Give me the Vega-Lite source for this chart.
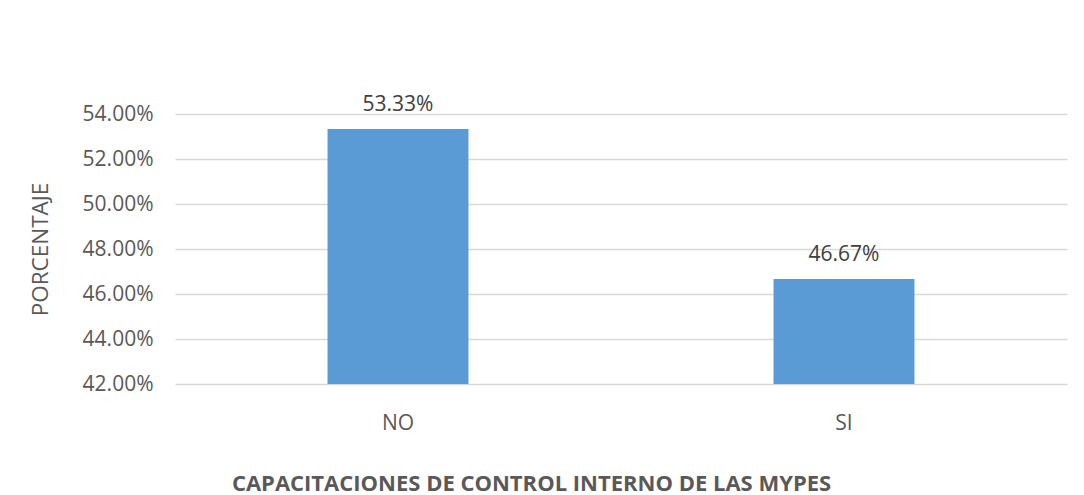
{
  "$schema": "https://vega.github.io/schema/vega-lite/v6.json",
  "width": 892,
  "height": 270,
  "autosize": {"type": "none"},
  "padding": {"left": 175, "top": 114, "right": 17, "bottom": 111},
  "background": "white",
  "data": {"values": [
    {"respuesta": "NO", "porcentaje": 0.5333},
    {"respuesta": "SI", "porcentaje": 0.4667}
  ]},
  "encoding": {
    "x": {
      "field": "respuesta", "type": "nominal", "sort": null,
      "scale": {"paddingInner": 0, "paddingOuter": 0},
      "axis": {
        "title": "CAPACITACIONES DE CONTROL INTERNO DE LAS MYPES",
        "titleFont": "Open Sans", "titleFontSize": 22, "titleFontWeight": "bold", "titleColor": "#595959",
        "titleX": 356, "titleAlign": "center", "titleAnchor": "start",
        "titlePadding": 40,
        "labelFont": "Open Sans", "labelFontSize": 21, "labelColor": "#595959", "labelAngle": 0,
        "labelPadding": 28, "ticks": false, "domain": false, "grid": false
      }
    },
    "y": {
      "field": "porcentaje", "type": "quantitative",
      "scale": {"domain": [0.42, 0.54], "zero": false, "nice": false},
      "axis": {
        "title": "PORCENTAJE",
        "titleFont": "Open Sans", "titleFontSize": 22.5, "titleFontWeight": "normal", "titleColor": "#595959",
        "titlePadding": 30,
        "values": [0.42, 0.44, 0.46, 0.48, 0.50, 0.52, 0.54],
        "format": ".2%",
        "labelFont": "Open Sans", "labelFontSize": 21, "labelColor": "#595959",
        "labelPadding": 22, "ticks": false, "domain": false,
        "grid": true, "gridColor": "#d9d9d9", "gridWidth": 1.5
      }
    }
  },
  "layer": [
    {"mark": {"type": "bar", "color": "#5b9bd5", "width": {"band": 0.316}},
     "encoding": {"y2": {"datum": 0.42}}},
    {"mark": {"type": "text", "baseline": "bottom", "dy": -14, "font": "Open Sans", "fontSize": 21, "color": "#404040"},
     "encoding": {"text": {"field": "porcentaje", "type": "quantitative", "format": ".2%"}}}
  ],
  "config": {"view": {"stroke": null}}
}
